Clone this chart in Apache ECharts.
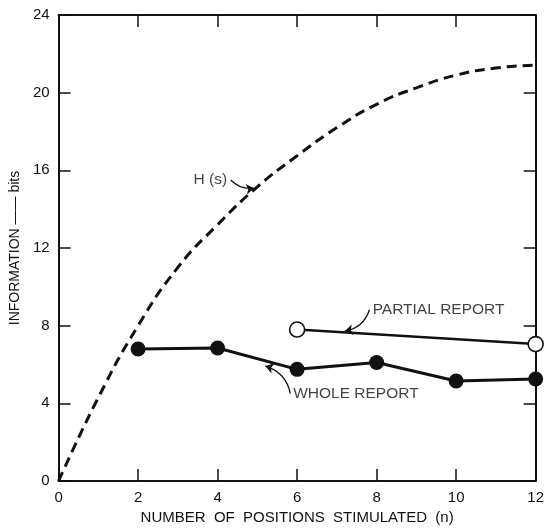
<!DOCTYPE html>
<html>
<head>
<meta charset="utf-8">
<title>Information vs. number of positions stimulated</title>
<script src="https://cdn.jsdelivr.net/npm/echarts@6/dist/echarts.min.js"></script>
<style>
  html, body { margin: 0; padding: 0; background: #fff; }
  #chart { width: 547px; height: 530px; }
</style>
</head>
<body>
<div id="chart"></div>
<script>
// Positions stimulated (n) and measured information (bits)
const positions = [2, 4, 6, 8, 10, 12];
const wholeReport = [6.8, 6.85, 5.75, 6.1, 5.15, 5.25];
const partialPositions = [6, 12];
const partialReport = [7.8, 7.05];

// Stimulus information H(s) as a function of n
const hsPositions = [0, 1, 2, 3, 4, 5, 6, 7, 8, 9, 10, 11, 12];
const hsValues    = [0, 4.3, 8.0, 11.0, 13.2, 15.15, 16.75, 18.2, 19.4, 20.25, 20.9, 21.27, 21.42];

const xTicks = [0, 2, 4, 6, 8, 10, 12];
const yTicks = [0, 4, 8, 12, 16, 20, 24];

// Callout texts and their leader arrows, in data coordinates
const calloutTexts = [
  { name: 'H (s)', at: [4.24, 15.5], align: 'right' },
  { name: 'PARTIAL REPORT', at: [7.9, 8.8], align: 'left' },
  { name: 'WHOLE REPORT', at: [5.9, 4.52], align: 'left' }
];
const calloutArrows = [
  { from: [4.33, 15.5], to: [4.92, 15.08], bend: -0.25 },
  { from: [7.82, 8.82], to: [7.2, 7.72], bend: 0.3 },
  { from: [5.83, 4.5], to: [5.2, 5.92], bend: -0.3 }
];

const FONT = '"Liberation Sans", Arial, sans-serif';
const INK = '#111';

const chart = echarts.init(document.getElementById('chart'), null, { renderer: 'canvas' });

function frameAxis(pos, visibleLabels, extra) {
  return Object.assign({
    type: 'value',
    position: pos,
    axisLine: { show: true, onZero: false, lineStyle: { color: INK, width: 2 } },
    axisTick: { show: true, inside: true, length: 12, lineStyle: { color: INK, width: 1.5 } },
    axisLabel: { show: visibleLabels, color: INK, fontFamily: FONT, fontSize: 14 },
    splitLine: { show: false }
  }, extra);
}

chart.setOption({
  animation: false,
  backgroundColor: '#fff',
  grid: { left: 57.5, right: 10, top: 15, bottom: 44, containLabel: false },
  xAxis: [
    frameAxis('bottom', true, {
      min: xTicks[0], max: xTicks[xTicks.length - 1], interval: 2,
      name: 'NUMBER  OF  POSITIONS  STIMULATED  (n)',
      nameLocation: 'middle', nameGap: 29,
      nameTextStyle: { color: INK, fontFamily: FONT, fontSize: 15 },
      axisLabel: { show: true, color: INK, fontFamily: FONT, fontSize: 15, margin: 9 }
    }),
    frameAxis('top', false, { min: xTicks[0], max: xTicks[xTicks.length - 1], interval: 2 })
  ],
  yAxis: [
    frameAxis('left', true, {
      min: yTicks[0], max: yTicks[yTicks.length - 1], interval: 4,
      name: 'INFORMATION —— bits',
      nameLocation: 'middle', nameGap: 33, nameRotate: 90,
      nameTextStyle: { color: INK, fontFamily: FONT, fontSize: 14 },
      axisLabel: { show: true, color: INK, fontFamily: FONT, fontSize: 15, margin: 9 }
    }),
    frameAxis('right', false, { min: yTicks[0], max: yTicks[yTicks.length - 1], interval: 4 })
  ],
  series: [
    {
      name: 'H (s)',
      type: 'line',
      smooth: 0.5,
      showSymbol: false,
      data: hsPositions.map((n, i) => [n, hsValues[i]]),
      lineStyle: { color: INK, width: 3, type: [10, 6], cap: 'butt' },
      z: 3
    },
    {
      name: 'WHOLE REPORT',
      type: 'line',
      data: positions.map((n, i) => [n, wholeReport[i]]),
      symbol: 'circle',
      symbolSize: 15,
      itemStyle: { color: INK, borderWidth: 0 },
      lineStyle: { color: INK, width: 3 },
      z: 4
    },
    {
      name: 'PARTIAL REPORT',
      type: 'line',
      data: partialPositions.map((n, i) => [n, partialReport[i]]),
      symbol: 'circle',
      symbolSize: 15,
      itemStyle: { color: '#fff', borderColor: INK, borderWidth: 1.6 },
      lineStyle: { color: INK, width: 2.5 },
      z: 4
    },
    {
      name: 'leaders',
      type: 'lines',
      coordinateSystem: 'cartesian2d',
      symbol: ['none', 'arrow'],
      symbolSize: [0, 8],
      silent: true,
      data: calloutArrows.map(a => ({
        coords: [a.from, a.to],
        lineStyle: { curveness: a.bend }
      })),
      lineStyle: { color: INK, width: 1.3, opacity: 1 },
      z: 5
    },
    {
      name: 'callouts',
      type: 'scatter',
      symbolSize: 0,
      silent: true,
      data: calloutTexts.map(c => ({
        name: c.name,
        value: c.at,
        label: { align: c.align }
      })),
      label: {
        show: true,
        formatter: '{b}',
        position: [0, 0],
        verticalAlign: 'middle',
        color: INK,
        fontFamily: FONT,
        fontSize: 15.5
      },
      z: 6
    }
  ]
});
</script>
</body>
</html>
